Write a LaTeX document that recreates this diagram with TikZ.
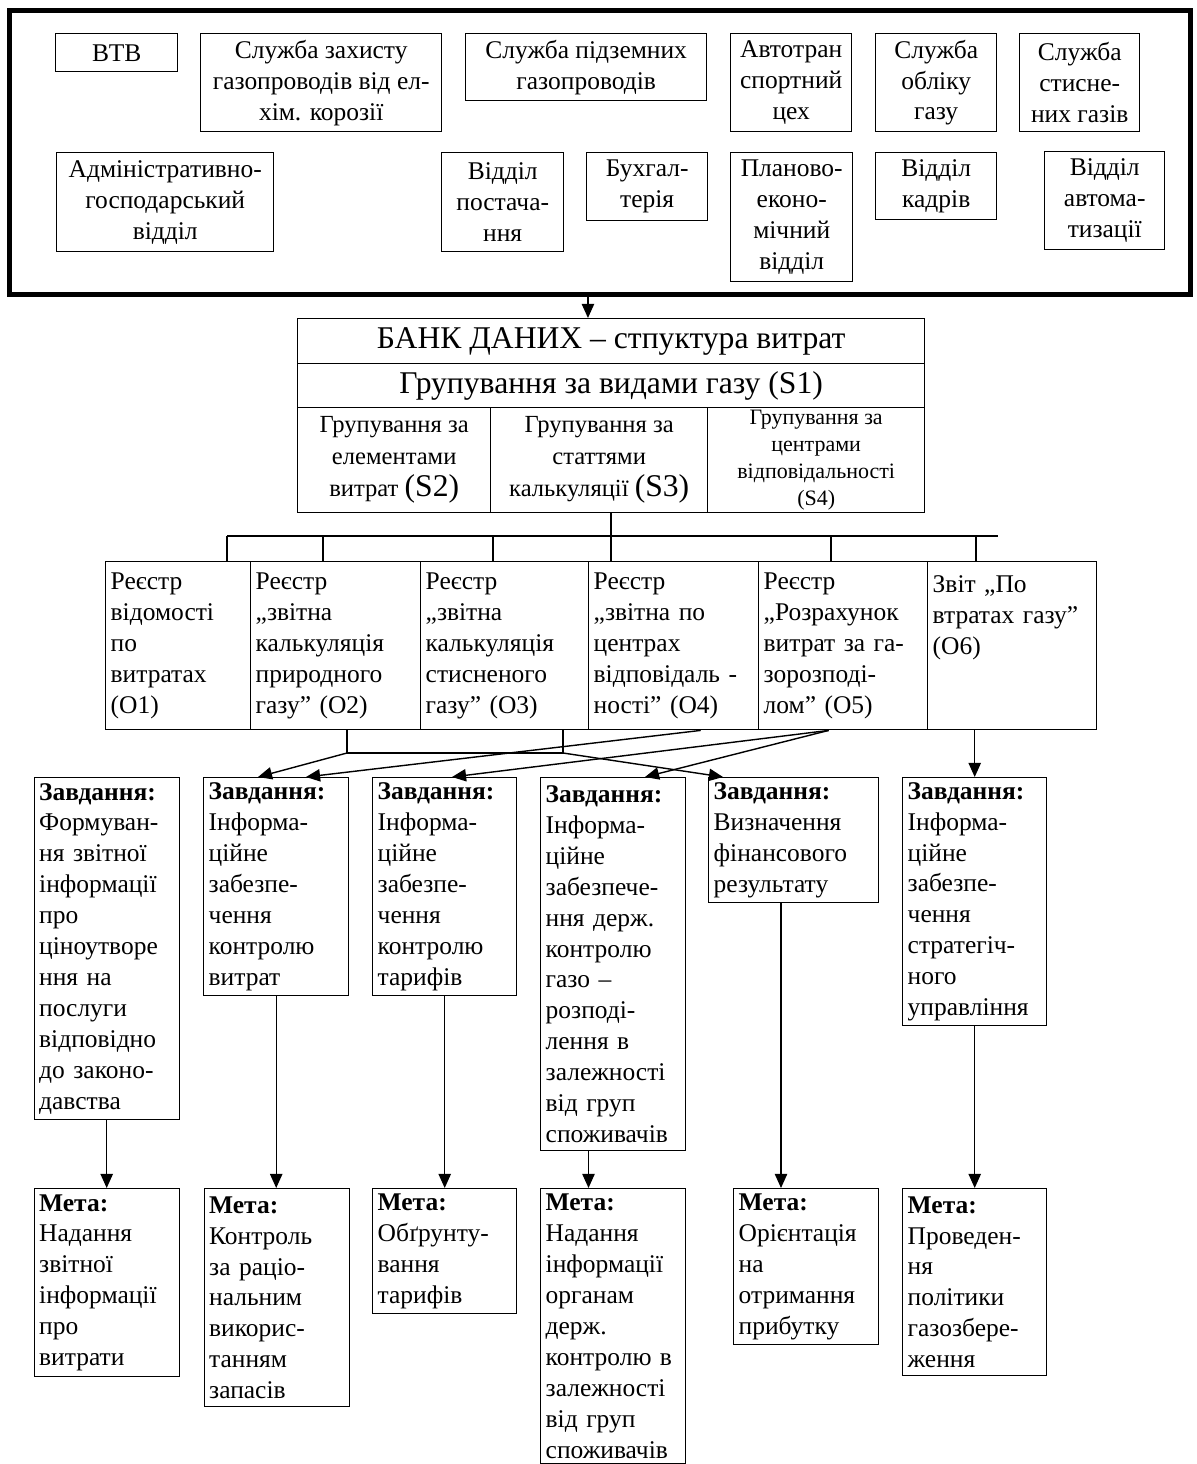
\documentclass[tikz,border=0pt]{standalone}
\usepackage{fontspec}
\setmainfont{Liberation Serif}
\usepackage{tikz}
\usetikzlibrary{arrows.meta}

\tikzset{
  box/.style={draw, line width=0.8pt, anchor=north west, align=center, inner sep=1pt,
    font=\fontsize{14.5}{17.6}\selectfont},
  lbox/.style={box, align=left, inner xsep=0.1cm, text width=#1},
  lbox/.default=2.70cm,
  arr/.style={line width=0.8pt, -{Triangle[length=8pt,width=7pt]}},
  link/.style={line width=0.8pt},
}

\begin{document}
\begin{tikzpicture}
  \useasboundingbox (0,0) rectangle (23.92,-29.28);
  \node[draw, line width=2.8pt, minimum width=23.62cm, minimum height=5.68cm, anchor=north west] (units) at (0.14,-0.16) {};
  \node[box, minimum width=2.44cm, minimum height=0.76cm] (vtb) at (1.10,-0.66) {ВТВ};
  \node[box, minimum width=4.82cm, minimum height=1.96cm] (zakhyst) at (4.00,-0.66) {Служба захисту\\ газопроводів від ел-\\ хім. корозії};
  \node[box, minimum width=4.82cm, minimum height=1.34cm] (pidzem) at (9.30,-0.66) {Служба підземних\\ газопроводів};
  \node[box, minimum width=2.42cm, minimum height=1.96cm] (avto) at (14.60,-0.66) {Автотран\\ спортний\\ цех};
  \node[box, minimum width=2.42cm, minimum height=1.96cm] (oblik) at (17.50,-0.66) {Служба\\ обліку\\ газу};
  \node[box, minimum width=2.40cm, minimum height=1.96cm] (stysn) at (20.38,-0.66) {Служба\\ стисне-\\ них газів};
  \node[box, minimum width=4.34cm, minimum height=1.98cm] (admin) at (1.12,-3.04) {Адміністративно-\\ господарський\\ відділ};
  \node[box, minimum width=2.44cm, minimum height=1.98cm] (postach) at (8.82,-3.04) {Відділ\\ постача-\\ ння};
  \node[box, minimum width=2.42cm, minimum height=1.36cm] (bukh) at (11.72,-3.04) {Бухгал-\\ терія};
  \node[box, minimum width=2.44cm, minimum height=2.58cm] (plan) at (14.60,-3.04) {Планово-\\ еконо-\\ мічний\\ відділ};
  \node[box, minimum width=2.42cm, minimum height=1.34cm] (kadry) at (17.50,-3.04) {Відділ\\ кадрів};
  \node[box, minimum width=2.40cm, minimum height=1.96cm] (avtomat) at (20.88,-3.02) {Відділ\\ автома-\\ тизації};

  \node[box, minimum width=12.54cm, minimum height=0.90cm, font=\fontsize{18}{20}\selectfont] (bank1) at (5.94,-6.36) {БАНК ДАНИХ – стпуктура витрат};
  \node[box, minimum width=12.54cm, minimum height=0.88cm, font=\fontsize{18}{20}\selectfont] (bank2) at (5.94,-7.26) {Групування за видами газу (S1)};
  \node[box, minimum width=3.86cm, minimum height=2.10cm, font=\fontsize{14}{18.2}\selectfont] (s2) at (5.94,-8.14) {Групування за\\ елементами\\ витрат {\fontsize{18}{18}\selectfont(S2)}};
  \node[box, minimum width=4.34cm, minimum height=2.10cm, font=\fontsize{14}{18.2}\selectfont] (s3) at (9.80,-8.14) {Групування за\\ статтями\\ калькуляції {\fontsize{18}{18}\selectfont(S3)}};
  \node[box, minimum width=4.34cm, minimum height=2.10cm, inner sep=0pt, font=\fontsize{12.5}{15.3}\selectfont] (s4) at (14.14,-8.14) {Групування за\\ центрами\\ відповідальності\\ (S4)};

  \node[lbox, minimum height=3.36cm] (o1) at (2.10,-11.22) {Реєстр\\ відомості\\ по\\ витратах\\ (O1)};
  \node[lbox=3.20cm, minimum height=3.36cm] (o2) at (5.00,-11.22) {Реєстр\\ „звітна\\ калькуляція\\ природного\\ газу” (O2)};
  \node[lbox=3.16cm, minimum height=3.36cm] (o3) at (8.40,-11.22) {Реєстр\\ „звітна\\ калькуляція\\ стисненого\\ газу” (O3)};
  \node[lbox=3.20cm, minimum height=3.36cm] (o4) at (11.76,-11.22) {Реєстр\\ „звітна по\\ центрах\\ відповідаль -\\ ності” (O4)};
  \node[lbox=3.18cm, minimum height=3.36cm] (o5) at (15.16,-11.22) {Реєстр\\ „Розрахунок\\ витрат за га-\\ зорозподі-\\ лом” (O5)};
  \node[lbox=3.18cm, minimum height=3.36cm] (o6) at (18.54,-11.22) {Звіт „По\\ втратах газу”\\ (O6)\\ ~\\ ~};

  \node[lbox, minimum height=6.84cm] (z1) at (0.67,-15.54) {\textbf{Завдання:}\\ Формуван-\\ ня звітної\\ інформації\\ про\\ ціноутворе\\ ння на\\ послуги\\ відповідно\\ до законо-\\ давства};
  \node[lbox, minimum height=4.36cm] (z2) at (4.06,-15.54) {\textbf{Завдання:}\\ Інформа-\\ ційне\\ забезпе-\\ чення\\ контролю\\ витрат};
  \node[lbox=2.68cm, minimum height=4.36cm] (z3) at (7.44,-15.54) {\textbf{Завдання:}\\ Інформа-\\ ційне\\ забезпе-\\ чення\\ контролю\\ тарифів};
  \node[lbox, minimum height=7.46cm] (z4) at (10.80,-15.54) {\textbf{Завдання:}\\ Інформа-\\ ційне\\ забезпече-\\ ння держ.\\ контролю\\ газо –\\ розподі-\\ лення в\\ залежності\\ від груп\\ споживачів};
  \node[lbox=3.20cm, minimum height=2.50cm] (z5) at (14.16,-15.54) {\textbf{Завдання:}\\ Визначення\\ фінансового\\ результату};
  \node[lbox=2.68cm, minimum height=4.96cm] (z6) at (18.04,-15.54) {\textbf{Завдання:}\\ Інформа-\\ ційне\\ забезпе-\\ чення\\ стратегіч-\\ ного\\ управління};

  \node[lbox, minimum height=3.76cm] (m1) at (0.67,-23.76) {\textbf{Мета:}\\ Надання\\ звітної\\ інформації\\ про\\ витрати};
  \node[lbox, minimum height=4.36cm] (m2) at (4.07,-23.76) {\textbf{Мета:}\\ Контроль\\ за раціо-\\ нальним\\ викорис-\\ танням\\ запасів};
  \node[lbox=2.68cm, minimum height=2.50cm] (m3) at (7.44,-23.76) {\textbf{Мета:}\\ Обґрунту-\\ вання\\ тарифів};
  \node[lbox, minimum height=5.50cm] (m4) at (10.80,-23.76) {\textbf{Мета:}\\ Надання\\ інформації\\ органам\\ держ.\\ контролю в\\ залежності\\ від груп\\ споживачів};
  \node[lbox, minimum height=3.12cm] (m5) at (14.66,-23.76) {\textbf{Мета:}\\ Орієнтація\\ на\\ отримання\\ прибутку};
  \node[lbox=2.68cm, minimum height=3.74cm] (m6) at (18.04,-23.76) {\textbf{Мета:}\\ Проведен-\\ ня\\ політики\\ газозбере-\\ ження};

  \coordinate (u) at ([xshift=-0.24cm]units.south);
  \draw[arr] (u) -- (u |- bank1.north);

  \coordinate (busl) at (4.54,-10.72);
  \coordinate (busr) at (19.96,-10.72);
  \coordinate (d1) at (4.54,-10.72);
  \coordinate (d2) at (6.46,-10.72);
  \coordinate (d3) at (9.86,-10.72);
  \coordinate (d4) at (12.22,-10.72);
  \coordinate (d5) at (16.62,-10.72);
  \coordinate (d6) at (19.52,-10.72);
  \draw[line width=1.2pt] (busl) -- (busr);
  \draw[link] (d4 |- s3.south) -- (d4 |- o4.north);
  \draw[link] (d1) -- (d1 |- o1.north);
  \draw[link] (d2) -- (d2 |- o2.north);
  \draw[link] (d3) -- (d3 |- o3.north);
  \draw[link] (d5) -- (d5 |- o5.north);
  \draw[link] (d6) -- (d6 |- o6.north);

  \coordinate (j1) at (6.94,-15.06);
  \coordinate (j2) at (11.26,-15.06);
  \draw[link] (j1 |- o2.south) -- (j1) -- (j2) -- (j2 |- o3.south);
  \draw[arr] (j1) -- ([xshift=1.10cm]z2.north west);
  \draw[arr] (j2) -- ([xshift=0.30cm]z5.north west);
  \draw[arr] ([xshift=0.54cm]o4.south) -- ([xshift=2.06cm]z2.north west);
  \draw[arr] ([xshift=-0.29cm]o5.south) -- ([xshift=1.60cm]z3.north west);
  \draw[arr] ([xshift=-0.29cm]o5.south) -- ([xshift=2.10cm]z4.north west);
  \draw[arr] (z6.north |- o6.south) -- (z6.north);

  \coordinate (c4) at (11.77,-23);
  \coordinate (c5) at (15.62,-23);
  \draw[arr] (z1.south) -- (m1.north);
  \draw[arr] (z2.south) -- (z2.south |- m2.north);
  \draw[arr] (z3.south) -- (m3.north);
  \draw[arr] (c4 |- z4.south) -- (c4 |- m4.north);
  \draw[arr] (c5 |- z5.south) -- (c5 |- m5.north);
  \draw[arr] (z6.south) -- (m6.north);
\end{tikzpicture}
\end{document}
